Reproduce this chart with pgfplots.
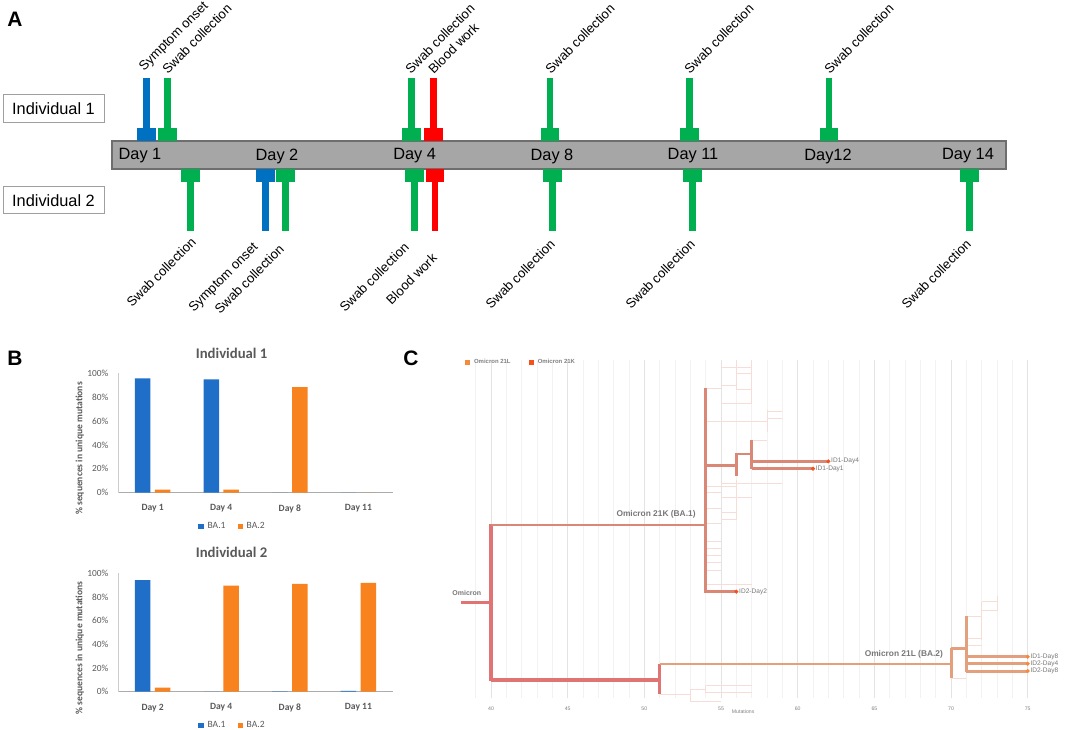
\documentclass[border=0pt]{standalone}
\usepackage{pgfplots}
\pgfplotsset{compat=1.18}
\usepackage{fontspec}
\setmainfont{Liberation Sans}
\newfontfamily\carlito{Carlito}

\definecolor{cblue}{HTML}{0070C0}
\definecolor{cgreen}{HTML}{00B050}
\definecolor{cred}{HTML}{FF0000}
\definecolor{barfill}{HTML}{A6A6A6}
\definecolor{bardraw}{HTML}{6E6E6E}
\definecolor{xlblue}{HTML}{1F6FC8}
\definecolor{xlorange}{HTML}{F7821E}
\definecolor{xgray}{HTML}{595959}
\definecolor{trroot}{HTML}{E07474}
\definecolor{trk}{HTML}{DA8776}
\definecolor{trl}{HTML}{E2A07C}
\definecolor{faint}{HTML}{F6DDD7}
\definecolor{dotk}{HTML}{F4511E}
\definecolor{dotl}{HTML}{F58A3C}
\definecolor{lab}{HTML}{777777}

% timeline arrows (panel A), x in pixels
\newcommand{\toparrow}[2]{%
  \addplot[color=#2, line width=3.35bp, forget plot] coordinates {(#1,-78) (#1,-129)};
  \addplot[color=#2, line width=9.35bp, forget plot] coordinates {(#1,-128) (#1,-141)};}
\newcommand{\botarrow}[2]{%
  \addplot[color=#2, line width=9.35bp, forget plot] coordinates {(#1,-169) (#1,-182)};
  \addplot[color=#2, line width=3.35bp, forget plot] coordinates {(#1,-181) (#1,-231)};}
% faint tree segments (panel C)
\newcommand{\fseg}[4]{\addplot[faint, line width=0.35bp, forget plot] coordinates {(#1,-#2) (#3,-#4)};}

\newcommand{\fDay}{\fontsize{8.2}{9.8}\selectfont}
\newcommand{\fEv}{\fontsize{6.6}{8}\selectfont}

\pgfplotsset{
  excelbar/.style={
    scale only axis, width=137.2bp, height=59.7bp,
    ybar=2.2bp, bar width=7.75bp,
    xmin=-0.5, xmax=3.5, ymin=0, ymax=100,
    xtick={0,1,2,3}, ytick={0,20,40,60,80,100},
    yticklabel={\pgfmathprintnumber{\tick}\%},
    /pgf/number format/assume math mode=true,
    axis x line*=bottom, axis y line*=left,
    x axis line style={draw=gray!65, line width=0.5bp},
    y axis line style={draw=gray!40, line width=0.4bp},
    major tick length=0pt,
    tick label style={font=\carlito\fontsize{4.7}{5}\selectfont, text=xgray},
    xticklabel style={font=\carlito\bfseries\fontsize{4.8}{5}\selectfont, yshift=-2.5bp},
    yticklabel style={xshift=-1.5bp},
    ylabel={\% sequences in unique mutations},
    ylabel style={font=\carlito\bfseries\fontsize{4.8}{5}\selectfont, text=xgray,
      at={(axis description cs:-0.14,0.37)}, anchor=center},
    every axis title shift=0pt,
    title style={font=\carlito\bfseries\fontsize{7.4}{8}\selectfont, text=xgray, anchor=center},
    legend style={draw=none, fill=none, font=\carlito\fontsize{4.8}{5}\selectfont, text=xgray,
      legend columns=2, anchor=center, inner sep=0pt,
      /tikz/every even column/.append style={column sep=4bp}},
    legend image code/.code={\fill[##1,draw=none] (0bp,-1.3bp) rectangle (2.6bp,1.3bp);},
    clip=false,
  },
}

\begin{document}
\begin{tikzpicture}
\useasboundingbox (0,0) rectangle (532.5bp,-365bp);

% ---------------- Panel A: timeline ----------------
\begin{axis}[at={(0bp,0bp)}, anchor=north west, scale only axis,
  width=532.5bp, height=150bp, xmin=0, xmax=1065, ymin=-300, ymax=0,
  hide axis, clip=false]
\addplot[draw=gray!75, line width=0.5bp, forget plot] coordinates {(3,-95) (104,-95) (104,-122.5) (3,-122.5)} -- cycle;
\addplot[draw=gray!75, line width=0.5bp, forget plot] coordinates {(3,-187) (104,-187) (104,-214) (3,-214)} -- cycle;
\addplot[draw=bardraw, fill=barfill, line width=0.7bp, forget plot] coordinates {(112,-141) (1006,-141) (1006,-169) (112,-169)} -- cycle;

\toparrow{146.7}{cblue}
\toparrow{167.5}{cgreen}
\toparrow{411.8}{cgreen}
\toparrow{433.3}{cred}
\toparrow{550}{cgreen}
\toparrow{689.7}{cgreen}
\toparrow{829}{cgreen}

\botarrow{190.8}{cgreen}
\botarrow{265.5}{cblue}
\botarrow{285.3}{cgreen}
\botarrow{414.3}{cgreen}
\botarrow{435}{cred}
\botarrow{552.7}{cgreen}
\botarrow{692.3}{cgreen}
\botarrow{969.3}{cgreen}

\node[font=\fDay] at (53.5,-108.5) {Individual 1};
\node[font=\fDay] at (53.5,-200.5) {Individual 2};
\node[font=\fDay] at (140,-156) {Day 1};
\node[font=\fDay] at (277,-156) {Day 2};
\node[font=\fDay] at (414.7,-156) {Day 4};
\node[font=\fDay] at (552,-156) {Day 8};
\node[font=\fDay] at (693,-156) {Day 11};
\node[font=\fDay] at (828,-156) {Day12};
\node[font=\fDay] at (968,-156) {Day 14};

\begin{scope}[every node/.style={font=\fEv, rotate=45, inner sep=0pt}]
\node[anchor=south west] at (146,-74) {Symptom onset};
\node[anchor=south west] at (168,-75) {Swab collection};
\node[anchor=south west] at (411,-75) {Swab collection};
\node[anchor=south west] at (434,-75) {Blood work};
\node[anchor=south west] at (551,-75) {Swab collection};
\node[anchor=south west] at (690,-75) {Swab collection};
\node[anchor=south west] at (830,-75) {Swab collection};

\node[anchor=north east] at (190,-236) {Swab collection};
\node[anchor=north east] at (252,-241) {Symptom onset};
\node[anchor=north east] at (278,-243) {Swab collection};
\node[anchor=north east] at (403,-241) {Swab collection};
\node[anchor=north east] at (431,-252) {Blood work};
\node[anchor=north east] at (549,-238) {Swab collection};
\node[anchor=north east] at (689,-238) {Swab collection};
\node[anchor=north east] at (965,-238) {Swab collection};
\end{scope}

\node[font=\bfseries\fontsize{10.5}{12}\selectfont] at (15,-19) {A};
\node[font=\bfseries\fontsize{10.5}{12}\selectfont] at (15,-358) {B};
\node[font=\bfseries\fontsize{10.5}{12}\selectfont] at (411,-358) {C};
\end{axis}

% ---------------- Panel B: Individual 1 ----------------
\begin{axis}[excelbar, at={(59.15bp,-246.35bp)}, anchor=south west,
  xticklabels={Day 1,Day 4,Day 8,Day 11},
  title={Individual 1}, title style={at={(axis description cs:0.413,1.17)}},
  legend style={at={(axis description cs:0.42,-0.285)}}]
\addplot[fill=xlblue, draw=none] coordinates {(0,95.8) (1,95.0) (2,0) (3,0)};
\addplot[fill=xlorange, draw=none] coordinates {(0,2.5) (1,2.6) (2,88.5) (3,0)};
\legend{BA.1, BA.2}
\end{axis}

% ---------------- Panel B: Individual 2 ----------------
\begin{axis}[excelbar, at={(59.15bp,-345.85bp)}, anchor=south west,
  height=59.2bp,
  xticklabels={Day 2,Day 4,Day 8,Day 11},
  title={Individual 2}, title style={at={(axis description cs:0.413,1.177)}},
  legend style={at={(axis description cs:0.42,-0.285)}}]
\addplot[fill=xlblue, draw=none] coordinates {(0,94.3) (1,0) (2,0.3) (3,0.8)};
\addplot[fill=xlorange, draw=none] coordinates {(0,3.4) (1,89.5) (2,91.0) (3,92.0)};
\legend{BA.1, BA.2}
\end{axis}

% ---------------- Panel C: phylogenetic tree ----------------
\begin{axis}[at={(226.35bp,-349bp)}, anchor=south west, scale only axis,
  width=295.17bp, height=169bp,
  xmin=37.5, xmax=76, ymin=-698, ymax=-360,
  xtick={40,45,...,75}, minor xtick={39,40,...,75}, ytick=\empty,
  grid=both,
  major grid style={draw=gray!22, line width=0.45bp},
  minor grid style={draw=gray!10, line width=0.4bp},
  axis line style={draw=none},
  major tick length=0pt, minor tick length=0pt,
  /pgf/number format/assume math mode=true,
  xticklabel style={font=\fontsize{2.6}{3}\selectfont, text=gray, yshift=-1bp},
  xlabel={Mutations},
  xlabel style={font=\fontsize{2.6}{3}\selectfont, text=gray,
    at={(axis description cs:0.492,0)}, anchor=center, yshift=-7bp},
  clip=false,
  legend style={draw=none, fill=none, font=\bfseries\fontsize{3}{3.5}\selectfont, text=gray,
    legend columns=2, at={(axis description cs:0.02,0.993)}, anchor=west, inner sep=0pt,
    /tikz/every even column/.append style={column sep=7bp}},
  legend image code/.code={\fill[#1,draw=none] (0bp,-1.3bp) rectangle (2.6bp,1.3bp);}]
\addlegendimage{fill=dotl}
\addlegendentry{Omicron 21L}
\addlegendimage{fill=dotk}
\addlegendentry{Omicron 21K}

% faint side branches
\fseg{54}{388.3}{55}{388.3}
\fseg{56}{360}{56}{390}
\fseg{57}{360}{57}{403}
\fseg{55}{367}{57}{367}
\fseg{56}{373}{57}{373}
\fseg{55}{385}{56}{385}
\fseg{56}{389.3}{57}{389.3}
\fseg{55}{403.3}{57}{403.3}
\fseg{58}{410}{58}{432}
\fseg{58}{411}{59}{411}
\fseg{58}{418.3}{59}{418.3}
\fseg{54}{421.7}{58}{421.7}
\fseg{57}{440}{58}{440}
\fseg{55}{483.3}{59}{483.3}
\fseg{54}{486.7}{56}{486.7}
\fseg{54}{492.3}{55}{492.3}
\fseg{55}{497.7}{57}{497.7}
\fseg{56}{480}{56}{520}
\fseg{54}{508}{55}{508}
\fseg{55}{512.7}{56}{512.7}
\fseg{55}{519}{56}{519}
\fseg{54}{523.3}{55}{523.3}
\fseg{54}{541.7}{55}{541.7}
\fseg{54}{548.3}{55}{548.3}
\fseg{54}{555}{55}{555}
\fseg{54}{562.7}{55}{562.7}
\fseg{54}{570}{55}{570}
\fseg{54}{584}{57}{584}
\fseg{51}{694.7}{53}{694.7}
\fseg{53}{689}{53}{701}
\fseg{53}{689.3}{54}{689.3}
\fseg{54}{685.7}{54}{692.7}
\fseg{54}{685.7}{57}{685.7}
\fseg{54}{692.7}{57}{692.7}
\fseg{53}{701}{55}{701}
\fseg{72}{601.7}{72}{640}
\fseg{72}{601.7}{73}{601.7}
\fseg{72}{610.7}{73}{610.7}
\fseg{73}{596}{73}{611}
\fseg{71}{616}{72}{616}
\fseg{71}{638.3}{72}{638.3}
\fseg{71}{645}{72}{645}
\fseg{70}{678.3}{71}{678.3}

% main tree
\addplot[trroot, line width=1.5bp, forget plot] coordinates {(38.07,-602.3) (40,-602.3)};
\addplot[trroot, line width=2bp, forget plot] coordinates {(40,-524.3) (40,-680.5)};
\addplot[trk, line width=1.3bp, forget plot] coordinates {(40,-525) (54,-525)};
\addplot[trk, line width=1.5bp, forget plot] coordinates {(54,-388.3) (54,-592.5)};
\addplot[trk, line width=1.5bp, forget plot] coordinates {(54,-465.7) (56,-465.7)};
\addplot[trk, line width=1.4bp, forget plot] coordinates {(56,-453.3) (56,-475.7)};
\addplot[trk, line width=1.4bp, forget plot] coordinates {(56,-454) (57,-454)};
\addplot[trk, line width=1.4bp, forget plot] coordinates {(57,-440) (57,-469.3)};
\addplot[trk, line width=1.3bp, forget plot] coordinates {(57,-461.3) (62,-461.3)};
\addplot[trk, line width=1.3bp, forget plot] coordinates {(57,-468.7) (61,-468.7)};
\addplot[trk, line width=1.3bp, forget plot] coordinates {(54,-591.7) (56,-591.7)};
\addplot[trroot, line width=2bp, forget plot] coordinates {(40,-679.5) (51,-679.5)};
\addplot[trroot, line width=1.6bp, forget plot] coordinates {(51,-664) (51,-694)};
\addplot[trl, line width=1.1bp, forget plot] coordinates {(51,-664.3) (70,-664.3)};
\addplot[trl, line width=1.5bp, forget plot] coordinates {(70,-648.3) (70,-677.7)};
\addplot[trl, line width=1.5bp, forget plot] coordinates {(70,-648.7) (71,-648.7)};
\addplot[trl, line width=1.5bp, forget plot] coordinates {(71,-616) (71,-672)};
\addplot[trl, line width=1.5bp, forget plot] coordinates {(71,-656.7) (75,-656.7)};
\addplot[trl, line width=1.5bp, forget plot] coordinates {(71,-663.7) (75,-663.7)};
\addplot[trl, line width=1.5bp, forget plot] coordinates {(71,-671) (75,-671)};

\addplot[only marks, mark=*, mark size=0.8bp, color=dotk, forget plot] coordinates {(62,-461.3) (61,-468.7) (56,-591.7)};
\addplot[only marks, mark=*, mark size=0.8bp, color=dotl, forget plot] coordinates {(75,-656.7) (75,-663.7) (75,-671)};

\begin{scope}[every node/.style={font=\fontsize{3.3}{4}\selectfont, text=lab, inner sep=0pt, anchor=west, xshift=1.2bp}]
\node at (62,-461.3) {ID1-Day4};
\node at (61,-468.7) {ID1-Day1};
\node at (56,-591.7) {ID2-Day2};
\node at (75,-656.7) {ID1-Day8};
\node at (75,-663.7) {ID2-Day4};
\node at (75,-671) {ID2-Day8};
\end{scope}
\node[font=\bfseries\fontsize{3.5}{4}\selectfont, text=lab] at (38.42,-593.3) {Omicron};
\node[font=\bfseries\fontsize{4.2}{5}\selectfont, text=lab] at (50.76,-514.3) {Omicron 21K (BA.1)};
\node[font=\bfseries\fontsize{4.2}{5}\selectfont, text=lab] at (66.92,-654.3) {Omicron 21L (BA.2)};
\end{axis}
\end{tikzpicture}
\end{document}
